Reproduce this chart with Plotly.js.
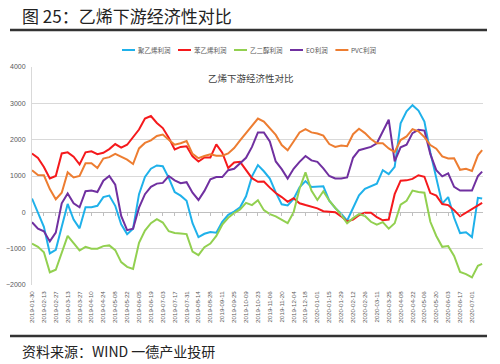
<!DOCTYPE html>
<html>
<head>
<meta charset="utf-8">
<script src="https://cdn.plot.ly/plotly-3.0.1.min.js"></script>
<style>
html,body{margin:0;padding:0;background:#fff;}
#chart{width:500px;height:364px;}
</style>
</head>
<body>
<div id="chart"></div>
<script>
// weekly sample dates (Wednesdays) plus last observation
const dates = (function(){
  const out = [];
  const start = Date.UTC(2019,0,30);
  for (let i = 0; i <= 75; i++) {
    const d = new Date(start + i*7*86400000);
    out.push(d.toISOString().slice(0,10));
  }
  out.push('2020-07-13');
  return out;
})();

const seriesNames = ['聚乙烯利润','苯乙烯利润','乙二醇利润','EO利润','PVC利润'];
const seriesColors = ['#1fb1ea','#f5191c','#92d050','#7030a0','#ed7d31'];

const pePro = [380,-30,-400,-1130,-1030,-400,230,-200,-440,140,140,180,420,460,180,-330,-600,-450,500,975,
  1200,1290,1270,950,560,460,320,-300,-680,-590,-540,-560,-260,-70,20,140,440,990,1300,1130,
  930,550,220,190,370,690,860,700,700,720,320,120,-40,-230,120,470,650,720,790,1160,
  1050,1250,2450,2780,2950,2800,2500,1650,900,240,420,-150,-570,-550,-680,400,380];
const smPro = [1620,1500,1250,930,1000,1620,1650,1530,1320,1650,1680,1600,1640,1740,1880,1780,1860,2070,2280,2580,
  2650,2460,2320,2050,1730,1800,1820,1540,1400,1510,1510,1870,1640,1220,1370,1390,1170,940,840,850,
  680,530,420,290,390,250,200,160,110,30,10,5,-110,-250,-200,-80,-10,-10,-130,-220,
  -200,500,870,880,920,1020,980,530,460,230,200,60,-110,-10,90,200,260];
const megPro = [-860,-950,-1100,-1650,-1580,-1100,-650,-850,-1050,-950,-1000,-1000,-930,-910,-1040,-1370,-1500,-1560,-840,-500,
  -300,-190,-280,-520,-570,-580,-600,-1080,-1180,-960,-860,-650,-340,-150,-20,80,260,200,330,60,
  -50,-110,-210,-300,0,650,1100,600,340,580,320,130,-70,-300,-160,-50,-100,-260,-340,-270,
  -450,-300,210,320,600,560,540,-260,-650,-950,-930,-1200,-1640,-1700,-1790,-1470,-1420];
const eoPro = [-270,-450,-520,-800,-560,250,520,250,140,580,600,560,870,1000,760,-100,-490,-450,130,500,
  700,790,810,1000,880,800,830,540,340,590,910,970,970,1160,1200,1360,1500,1800,2200,2200,
  1950,1400,1190,930,1200,1390,1550,1430,1390,1210,1000,930,930,960,1500,1710,1750,1800,1900,2220,
  2550,1400,1790,1860,2180,2270,2250,1600,1160,990,1070,700,600,600,600,1000,1120];
const pvcPro = [1160,1030,1020,640,360,540,1100,960,1000,1350,1350,1220,1480,1520,1610,1530,1450,1330,1760,1910,
  1980,2100,2140,2000,1860,1900,1960,1610,1490,1550,1600,1560,1560,1620,1770,1980,2180,2380,2580,2500,
  2300,2130,1850,1710,1950,2200,2290,2200,2170,2110,1880,1800,1840,1820,2150,2300,2180,2020,1900,1900,
  1760,1660,1990,2090,2290,2230,2070,1850,1750,1540,1480,1490,1170,1200,1140,1570,1710];

const seriesValues = [pePro, smPro, megPro, eoPro, pvcPro];

const traces = seriesValues.map((vals, k) => ({
  type: 'scatter', mode: 'lines', x: dates, y: vals, name: seriesNames[k],
  line: {color: seriesColors[k], width: 2}, showlegend: false, hoverinfo: 'skip'
}));
// invisible trace to carry the tick-mark axis at zero
traces.push({type:'scatter', mode:'lines', x:[dates[0]], y:[0], xaxis:'x2', yaxis:'y',
  line:{width:0, color:'rgba(0,0,0,0)'}, showlegend:false, hoverinfo:'skip'});

const W = 500, H = 364;
const M = {l: 32, r: 17, t: 67, b: 79};
const pw = W - M.l - M.r, ph = H - M.t - M.b;
const px2x = p => (p - M.l) / pw;
const py2y = p => (H - M.b - p) / ph;

// custom legend built from series names/colours
const shapes = [];
const annotations = [];
function textW(s){ let w=0; for (const c of s){ w += /[\u0000-\u00ff]/.test(c) ? 4.3 : 6.4; } return w; }
let lx = 122;
const ly = 50;
seriesNames.forEach((n, k) => {
  shapes.push({type:'line', xref:'paper', yref:'paper', x0:px2x(lx), x1:px2x(lx+13), y0:py2y(ly), y1:py2y(ly),
    line:{color:seriesColors[k], width:2}});
  annotations.push({xref:'paper', yref:'paper', x:px2x(lx+14), y:py2y(ly), xanchor:'left', yanchor:'middle',
    text:n, showarrow:false, font:{size:6.5, color:'#595959', family:'Noto Sans CJK SC'}});
  lx += 13 + 2 + textW(n) + 9;
});

// page furniture: header rule and footer rule
shapes.push({type:'line', xref:'paper', yref:'paper', x0:px2x(10), x1:px2x(487), y0:py2y(30), y1:py2y(30),
  line:{color:'#333333', width:2.5}});
shapes.push({type:'line', xref:'paper', yref:'paper', x0:px2x(10), x1:px2x(487), y0:py2y(336), y1:py2y(336),
  line:{color:'#333333', width:2.5}});

annotations.push({xref:'paper', yref:'paper', x:px2x(20), y:py2y(16), xanchor:'left', yanchor:'middle',
  text:'图 25：乙烯下游经济性对比', showarrow:false, font:{size:17, color:'#222222', family:'Noto Sans CJK SC'}});
annotations.push({xref:'paper', yref:'paper', x:px2x(20), y:py2y(351), xanchor:'left', yanchor:'middle',
  text:'资料来源：WIND 一德产业投研', showarrow:false, font:{size:14, color:'#222222', family:'Noto Sans CJK SC'}});
annotations.push({xref:'paper', yref:'paper', x:px2x(251), y:py2y(78), xanchor:'center', yanchor:'middle',
  text:'乙烯下游经济性对比', showarrow:false, font:{size:9.5, color:'#404040', family:'Noto Sans CJK SC'}});

const xRange = ['2019-01-30', '2020-07-14'];
const layout = {
  width: W, height: H,
  margin: M,
  paper_bgcolor: '#ffffff', plot_bgcolor: '#ffffff',
  font: {family: 'Liberation Sans, DejaVu Sans, sans-serif', color: '#595959'},
  xaxis: {
    type: 'date', range: xRange, tick0: '2019-01-30', dtick: 14*86400000,
    tickformat: '%Y-%m-%d', tickangle: -90, tickfont: {size: 6.2, color:'#595959'},
    showgrid: false, zeroline: false, showline: false, ticks: '', ticklabelstandoff: 4
  },
  xaxis2: {
    type: 'date', range: xRange, tick0: '2019-01-30', dtick: 14*86400000,
    overlaying: 'x', anchor: 'free', position: 1/3, showticklabels: false,
    ticks: 'outside', ticklen: 3, tickcolor: '#bfbfbf', tickwidth: 1,
    showgrid: false, zeroline: false, showline: false
  },
  yaxis: {
    range: [-2000, 4000], dtick: 1000, tickfont: {size: 7, color:'#595959'},
    gridcolor: '#d9d9d9', gridwidth: 1, zeroline: true, zerolinecolor: '#bfbfbf', zerolinewidth: 1,
    showline: true, linecolor: '#d9d9d9', linewidth: 1, ticks: '', ticklabelstandoff: 4
  },
  shapes: shapes,
  annotations: annotations,
  showlegend: false
};

Plotly.newPlot('chart', traces, layout, {staticPlot: true, displayModeBar: false});
</script>
</body>
</html>
